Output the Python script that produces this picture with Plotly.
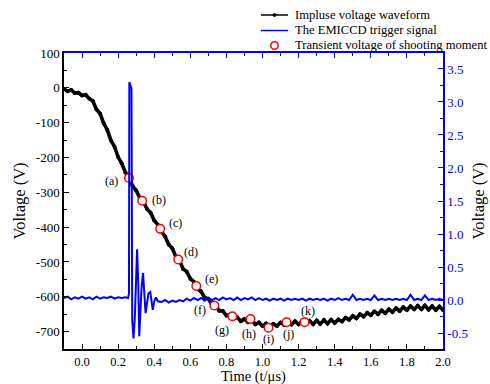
import numpy as np
import plotly.graph_objects as go

# ---------------- data ----------------
wave_t = np.round(np.arange(-0.10, 2.0001, 0.02), 3)
wave_v = [-3, -10, -6, -15, -14, -22, -20, -31, -38, -62,
          -74, -102, -121, -151, -169, -199, -217, -243, -257, -282,
          -295, -316, -327, -348, -359, -381, -393, -413, -427, -450,
          -461, -485, -496, -520, -528, -548, -557, -577, -585, -603,
          -606, -623, -626, -640, -641, -654, -651, -663, -659, -670,
          -664, -673, -667, -679, -674, -684, -677, -686, -678, -684,
          -674, -681, -671, -680, -670, -679, -669, -679, -669, -679,
          -668, -678, -667, -677, -666, -675, -665, -671, -660, -666,
          -655, -662, -650, -657, -646, -653, -642, -650, -639, -647,
          -636, -644, -633, -641, -630, -638, -627, -636, -626, -636,
          -625, -637, -627, -638, -628, -638]

trig_t = [-0.10, -0.08, -0.06, -0.04, -0.02, 0.00, 0.02, 0.04, 0.06, 0.08,
          0.10, 0.12, 0.14, 0.16, 0.18, 0.20, 0.22, 0.24, 0.255, 0.260,
          0.262, 0.268, 0.274, 0.278, 0.285, 0.292, 0.298, 0.305, 0.311, 0.317,
          0.323, 0.330, 0.338, 0.345, 0.352, 0.360, 0.368, 0.378, 0.385, 0.392,
          0.40, 0.41, 0.42, 0.44, 0.46, 0.48, 0.50, 0.52, 0.54, 0.56,
          0.58, 0.60, 0.62, 0.64, 0.66, 0.68, 0.70, 0.72, 0.74, 0.76,
          0.78, 0.80, 0.82, 0.84, 0.86, 0.88, 0.90, 0.92, 0.94, 0.96,
          0.98, 1.00, 1.02, 1.04, 1.06, 1.08, 1.10, 1.12, 1.14, 1.16,
          1.18, 1.20, 1.22, 1.24, 1.26, 1.28, 1.30, 1.32, 1.34, 1.36,
          1.38, 1.40, 1.42, 1.44, 1.46, 1.48, 1.50, 1.52, 1.54, 1.56,
          1.58, 1.60, 1.62, 1.64, 1.66, 1.68, 1.70, 1.72, 1.74, 1.76,
          1.78, 1.80, 1.82, 1.84, 1.86, 1.88, 1.90, 1.92, 1.94, 1.96,
          1.98, 2.00]
trig_v = [0.03, 0.05, 0.01, 0.04, 0.02, 0.05, 0.02, 0.04, 0.01, 0.05,
          0.02, 0.04, 0.03, 0.05, 0.02, 0.04, 0.03, 0.04, 0.03, 0.10,
          3.30, 3.25, 3.20, -0.30, -0.58, -0.30, 0.40, 0.77, 0.30, -0.55,
          -0.20, 0.20, 0.41, 0.10, -0.20, -0.05, 0.10, 0.12, -0.05, -0.15,
          -0.02, 0.04, -0.02, -0.03, 0.00, -0.04, -0.01, -0.03, 0.00, -0.02,
          0.02, -0.01, 0.03, 0.00, 0.03, -0.01, 0.03, 0.00, 0.03, 0.00,
          0.04, 0.01, 0.03, 0.00, 0.04, 0.00, 0.03, 0.01, 0.04, 0.00,
          0.03, 0.00, 0.02, -0.01, 0.02, 0.00, 0.02, -0.01, 0.02, 0.00,
          0.02, 0.00, 0.02, -0.01, 0.02, 0.00, 0.02, 0.00, 0.02, -0.01,
          0.02, 0.00, 0.03, 0.00, 0.02, 0.00, 0.08, 0.00, 0.02, 0.00,
          0.02, 0.00, 0.07, 0.00, 0.02, 0.00, 0.02, 0.00, 0.02, 0.00,
          0.02, 0.00, 0.08, 0.00, 0.02, 0.00, 0.07, 0.00, 0.02, 0.00,
          0.02, 0.00]

shot_t = [0.26, 0.333, 0.433, 0.533, 0.633, 0.733, 0.833, 0.933, 1.033, 1.133, 1.233]
shot_v = [-259, -324, -405, -493, -569, -625, -656, -664, -689, -673, -673]
shot_labels = ["(a)", "(b)", "(c)", "(d)", "(e)", "(f)", "(g)", "(h)", "(i)", "(j)", "(k)"]
label_shift = [(-17, -3), (17, 1), (15, 6), (13, 8), (15, 7), (-14, -5),
               (-10, -14), (-1, -15), (0, -11), (2, -12), (3, 11)]

legend_names = ["Impluse voltage waveform", "The EMICCD trigger signal",
                "Transient voltage of shooting moment"]
x_title = "Time (t/μs)"
y_title = "Voltage (V)"

left_ticks = [100, 0, -100, -200, -300, -400, -500, -600, -700]
left_ticktext = ["100", "0", "-100", "-200", "-300", "-400", "-500", "-600", "-700"]
right_ticks = [3.5, 3.0, 2.5, 2.0, 1.5, 1.0, 0.5, 0.0, -0.5]
right_ticktext = ["3.5", "3.0", "2.5", "2.0", "1.5", "1.0", "0.5", "0.0", "-0.5"]
x_ticks = [0.0, 0.2, 0.4, 0.6, 0.8, 1.0, 1.2, 1.4, 1.6, 1.8, 2.0]
x_ticktext = ["0.0", "0.2", "0.4", "0.6", "0.8", "1.0", "1.2", "1.4", "1.6", "1.8", "2.0"]

FONT = "Liberation Serif"
BLUE = "#0000ff"
W, H = 490, 384
ML, MR, MT, MB = 64, 47, 53, 35
PW, PH = W - ML - MR, H - MT - MB


def px_x(p):
    return (p - ML) / PW


def px_y(p):
    return (H - MB - p) / PH


fig = go.Figure()
fig.add_trace(go.Scatter(x=wave_t, y=wave_v, mode="lines+markers",
                         name=legend_names[0], showlegend=False,
                         line=dict(color="black", width=3.6),
                         marker=dict(color="black", size=4),
                         xaxis="x", yaxis="y"))
fig.add_trace(go.Scatter(x=trig_t, y=trig_v, mode="lines",
                         name=legend_names[1], showlegend=False,
                         line=dict(color=BLUE, width=2),
                         xaxis="x", yaxis="y2"))
fig.add_trace(go.Scatter(x=shot_t, y=shot_v, mode="markers",
                         name=legend_names[2], showlegend=False,
                         marker=dict(symbol="circle", size=8.5, color="white",
                                     line=dict(color="red", width=1.5)),
                         xaxis="x", yaxis="y"))
# helper so the top axis is drawn
fig.add_trace(go.Scatter(x=[0], y=[0], mode="none", showlegend=False,
                         hoverinfo="skip", xaxis="x2", yaxis="y"))

for t, v, lab, (dx, dy) in zip(shot_t, shot_v, shot_labels, label_shift):
    fig.add_annotation(x=t, y=v, xref="x", yref="y", text=lab, showarrow=False,
                       xshift=dx, yshift=dy, font=dict(family=FONT, size=12, color="black"))

# x-axis title as an annotation for precise placement
fig.add_annotation(xref="paper", yref="paper", x=0.5, y=px_y(376), xanchor="center",
                   yanchor="middle", text=x_title, showarrow=False, borderpad=0,
                   font=dict(family=FONT, size=14.5, color="black"))

# ---- legend (drawn manually, above the plot) ----
leg_rows = [15, 30.5, 45.5]
sym_x0, sym_x1, txt_x = 261, 288, 293
fig.add_shape(type="line", xref="paper", yref="paper", x0=px_x(sym_x0), x1=px_x(sym_x1),
              y0=px_y(leg_rows[0]), y1=px_y(leg_rows[0]), line=dict(color="black", width=1.5))
fig.add_shape(type="circle", xref="paper", yref="paper", xsizemode="pixel", ysizemode="pixel",
              xanchor=px_x((sym_x0 + sym_x1) / 2), yanchor=px_y(leg_rows[0]),
              x0=-1.5, x1=1.5, y0=-1.5, y1=1.5, fillcolor="black", line=dict(color="black", width=1))
fig.add_shape(type="line", xref="paper", yref="paper", x0=px_x(sym_x0), x1=px_x(sym_x1),
              y0=px_y(leg_rows[1]), y1=px_y(leg_rows[1]), line=dict(color=BLUE, width=1.5))
fig.add_shape(type="circle", xref="paper", yref="paper", xsizemode="pixel", ysizemode="pixel",
              xanchor=px_x((sym_x0 + sym_x1) / 2), yanchor=px_y(leg_rows[2]),
              x0=-3.7, x1=3.7, y0=-3.7, y1=3.7, fillcolor="white", line=dict(color="red", width=1.5))
for name, row in zip(legend_names, leg_rows):
    fig.add_annotation(xref="paper", yref="paper", x=px_x(txt_x), y=px_y(row),
                       xanchor="left", yanchor="middle", text=name, showarrow=False,
                       font=dict(family=FONT, size=12.6, color="black"))

fig.update_layout(
    width=W, height=H,
    margin=dict(l=ML, r=MR, t=MT, b=MB, autoexpand=False),
    paper_bgcolor="white", plot_bgcolor="white",
    font=dict(family=FONT, size=13, color="black"),
    showlegend=False,
    xaxis=dict(range=[-0.1, 2.0], showline=True, linecolor="black", linewidth=1.5,
               ticks="inside", ticklen=5, tickcolor="black", tickvals=x_ticks,
               ticktext=x_ticktext, showgrid=False, zeroline=False,
               minor=dict(dtick=0.1, tick0=0, ticks="inside", ticklen=3, tickcolor="black"),
               tickfont=dict(family=FONT, size=12.5)),
    xaxis2=dict(range=[-0.1, 2.0], overlaying="x", side="top", anchor="y",
                showline=True, linecolor=BLUE, linewidth=1.5, ticks="inside",
                ticklen=5, tickcolor=BLUE, tickvals=x_ticks, showticklabels=False,
                showgrid=False, zeroline=False,
                minor=dict(dtick=0.1, tick0=0, ticks="inside", ticklen=3, tickcolor=BLUE)),
    yaxis=dict(range=[-750, 100], showline=True, linecolor="black", linewidth=1.5,
               ticks="inside", ticklen=5, tickcolor="black", tickvals=left_ticks,
               ticktext=left_ticktext, showgrid=False, zeroline=False,
               minor=dict(dtick=50, tick0=0, ticks="inside", ticklen=3, tickcolor="black"),
               title=dict(text=y_title, font=dict(family=FONT, size=16.5), standoff=6),
               tickfont=dict(family=FONT, size=13)),
    yaxis2=dict(range=[-0.742, 3.742], overlaying="y", side="right", anchor="x",
                showline=True, linecolor=BLUE, linewidth=1.5, ticks="inside",
                ticklen=5, tickcolor=BLUE, tickvals=right_ticks, ticktext=right_ticktext,
                showgrid=False, zeroline=False,
                minor=dict(dtick=0.25, tick0=0, ticks="inside", ticklen=3, tickcolor=BLUE),
                tickfont=dict(family=FONT, size=13, color=BLUE),
                title=dict(text=y_title, font=dict(family=FONT, size=16.5, color="black"),
                           standoff=6)),
)

fig.write_html("out.html")
